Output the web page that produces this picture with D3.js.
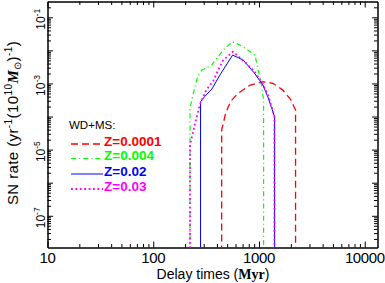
<!DOCTYPE html>
<html>
<head>
<meta charset="utf-8">
<script src="https://cdn.jsdelivr.net/npm/d3@7"></script>
<style>
  html, body { margin: 0; padding: 0; background: #fff; }
  svg { display: block; }
  text { font-family: "Liberation Sans", Arial, sans-serif; }
</style>
</head>
<body>
<svg id="chart" width="385" height="283"></svg>
<script>
// ---- data ----
const seriesNames = ["Z=0.0001", "Z=0.004", "Z=0.02", "Z=0.03"];
const seriesColors = ["#ff0000", "#00ff00", "#0000ff", "#ff00ff"];

const timeZ0001 = [443.6, 443.6, 487, 543, 632, 815, 1088, 1353, 1682, 2001, 2217, 2217];
const rateZ0001 = [0, 3.9e-5, 1.37e-4, 2.94e-4, 5.0e-4, 8.7e-4, 1.13e-3, 1.01e-3, 6.3e-4, 3.2e-4, 1.57e-4, 0];

const timeZ004 = [222.6, 222.6, 237.6, 265, 289, 356.7, 459, 563, 709, 915, 983, 1049, 1105, 1105];
const rateZ004 = [0, 1.8e-4, 4.5e-4, 1.8e-3, 2.55e-3, 3.6e-3, 1.03e-2, 1.83e-2, 1.29e-2, 7.2e-3, 2.55e-3, 1.0e-3, 3.2e-4, 0];

const timeZ02 = [280, 280, 306, 359, 427, 563, 709, 900, 1088, 1213, 1404, 1404];
const rateZ02 = [0, 2.8e-4, 4.0e-4, 6.8e-4, 1.8e-3, 7.2e-3, 5.1e-3, 2.1e-3, 9.0e-4, 3.9e-4, 9.9e-5, 0];

const timeZ03 = [222.6, 222.6, 246.5, 275, 317, 369, 412, 459, 567, 736, 915, 1088, 1240, 1398, 1398];
const rateZ03 = [0, 1.4e-5, 5.5e-5, 2.2e-4, 6.3e-4, 1.19e-3, 2.55e-3, 5.1e-3, 9.1e-3, 4.45e-3, 2.2e-3, 9.6e-4, 3.9e-4, 9.9e-5, 0];

const xMajorTicks = [10, 100, 1000, 10000];
const xTickLabels = ["10", "100", "1000", "10000"];
const yMajorTicks = [1e-7, 1e-6, 1e-5, 1e-4, 1e-3, 1e-2, 1e-1];
const yLabelTicks = [1e-1, 1e-3, 1e-5, 1e-7];
const yLabelExponents = ["-1", "-3", "-5", "-7"];
const legendTitle = "WD+MS:";

// ---- layout ----
const svg = d3.select("#chart");
const L = 47.5, R = 377.5, T = 1.5, B = 247.5;

const x = d3.scaleLog().domain([10, 13200]).range([L, R]);
const y = d3.scaleLog().domain([1.1e-8, 0.3]).range([B, T]);

function minorTicks(scale) {
  const [a, b] = scale.domain();
  const out = [];
  for (let e = Math.floor(Math.log10(a)); e <= Math.ceil(Math.log10(b)); e++) {
    for (let m = 2; m <= 9; m++) {
      const v = m * Math.pow(10, e);
      if (v >= a && v <= b) out.push(v);
    }
  }
  return out;
}
const xMinor = minorTicks(x);
const yMinor = minorTicks(y);

const axisStyle = g => {
  g.selectAll("path.domain").attr("stroke", "#000").attr("stroke-width", 1);
  g.selectAll("line").attr("stroke", "#000").attr("stroke-width", 1);
  g.selectAll("text").remove();
};

// bottom
svg.append("g").attr("transform", `translate(0,${B})`)
  .call(d3.axisBottom(x).tickValues(xMajorTicks).tickSize(-6).tickSizeOuter(0).tickFormat(""))
  .call(axisStyle);
svg.append("g").attr("transform", `translate(0,${B})`)
  .call(d3.axisBottom(x).tickValues(xMinor).tickSize(-3.5).tickSizeOuter(0).tickFormat(""))
  .call(axisStyle);
// top
svg.append("g").attr("transform", `translate(0,${T})`)
  .call(d3.axisTop(x).tickValues(xMajorTicks).tickSize(-6).tickSizeOuter(0).tickFormat(""))
  .call(axisStyle);
svg.append("g").attr("transform", `translate(0,${T})`)
  .call(d3.axisTop(x).tickValues(xMinor).tickSize(-3.5).tickSizeOuter(0).tickFormat(""))
  .call(axisStyle);
// left
svg.append("g").attr("transform", `translate(${L},0)`)
  .call(d3.axisLeft(y).tickValues(yMajorTicks).tickSize(-5.5).tickSizeOuter(0).tickFormat(""))
  .call(axisStyle);
svg.append("g").attr("transform", `translate(${L},0)`)
  .call(d3.axisLeft(y).tickValues(yMinor).tickSize(-3.5).tickSizeOuter(0).tickFormat(""))
  .call(axisStyle);
// right
svg.append("g").attr("transform", `translate(${R},0)`)
  .call(d3.axisRight(y).tickValues(yMajorTicks).tickSize(-5.5).tickSizeOuter(0).tickFormat(""))
  .call(axisStyle);
svg.append("g").attr("transform", `translate(${R},0)`)
  .call(d3.axisRight(y).tickValues(yMinor).tickSize(-3.5).tickSizeOuter(0).tickFormat(""))
  .call(axisStyle);

// x tick labels
svg.append("g").selectAll("text").data(xMajorTicks).join("text")
  .attr("x", d => x(d)).attr("y", 262.5)
  .attr("text-anchor", "middle").attr("font-size", 15).attr("letter-spacing", -0.4)
  .attr("fill", "#000")
  .text((d, i) => xTickLabels[i]);

// y tick labels (rotated, with superscript exponent)
yLabelTicks.forEach((v, i) => {
  const t = svg.append("text")
    .attr("transform", `translate(45,${y(v) + 2}) rotate(-90)`)
    .attr("text-anchor", "middle").attr("font-size", 12).attr("fill", "#000");
  t.append("tspan").text("10");
  t.append("tspan").attr("font-size", 8.5).attr("dy", -5).text(yLabelExponents[i]);
});

// x title
const xt = svg.append("text").attr("x", 213).attr("y", 278.5)
  .attr("text-anchor", "middle").attr("font-size", 14).attr("fill", "#000");
xt.append("tspan").text("Delay times (");
xt.append("tspan").attr("font-family", "'Liberation Serif', serif").attr("font-weight", "bold").text("Myr");
xt.append("tspan").text(")");

// y title
const yt = svg.append("text")
  .attr("transform", `translate(18,123) rotate(-90)`)
  .attr("text-anchor", "middle").attr("font-size", 15).attr("fill", "#000")
  .attr("letter-spacing", 0.4);
yt.append("tspan").text("SN rate (yr");
yt.append("tspan").attr("font-size", 10).attr("dy", -6).text("-1");
yt.append("tspan").attr("dy", 6).text("(10");
yt.append("tspan").attr("font-size", 10).attr("dy", -6).text("10");
yt.append("tspan").attr("dy", 6).attr("font-family", "'Liberation Serif', serif")
  .attr("font-weight", "bold").attr("font-style", "italic").text("M");
yt.append("tspan").attr("font-size", 10).attr("dy", 3).text("\u2299");
yt.append("tspan").attr("dy", -3).text(")");
yt.append("tspan").attr("font-size", 10).attr("dy", -6).text("-1");
yt.append("tspan").attr("dy", 6).text(")");

// clip
svg.append("clipPath").attr("id", "plotclip")
  .append("rect").attr("x", L).attr("y", T).attr("width", R - L).attr("height", B - T);

const yPos = v => v > 0 ? y(v) : B + 5;
const line = d3.line().x(d => x(d[0])).y(d => yPos(d[1]));

const series = [
  { t: timeZ0001, r: rateZ0001, dash: "7,4", w: 1.3 },
  { t: timeZ004, r: rateZ004, dash: "5,3,1.2,3", w: 1.2 },
  { t: timeZ02, r: rateZ02, dash: null, w: 1 },
  { t: timeZ03, r: rateZ03, dash: "1.8,2.6", w: 1.8 }
];

const plot = svg.append("g").attr("clip-path", "url(#plotclip)");
series.forEach((s, i) => {
  plot.append("path")
    .datum(s.t.map((tv, k) => [tv, s.r[k]]))
    .attr("d", line)
    .attr("fill", "none")
    .attr("stroke", seriesColors[i])
    .attr("stroke-width", s.w)
    .attr("stroke-dasharray", s.dash);
});

// legend
svg.append("text").attr("x", 69).attr("y", 128.5)
  .attr("font-size", 11.5).attr("fill", "#000").text(legendTitle);
const legY = [145.5, 160, 175.5, 190.5];
series.forEach((s, i) => {
  svg.append("line")
    .attr("x1", 71).attr("x2", 103)
    .attr("y1", legY[i] - 1.5).attr("y2", legY[i] - 1.5)
    .attr("stroke", seriesColors[i]).attr("stroke-width", s.w)
    .attr("stroke-dasharray", s.dash);
  svg.append("text").attr("x", 104).attr("y", legY[i])
    .attr("font-family", "'Liberation Serif', serif").attr("font-weight", "bold")
    .attr("font-size", 13.5).attr("fill", seriesColors[i])
    .text(seriesNames[i]);
});
</script>
</body>
</html>
